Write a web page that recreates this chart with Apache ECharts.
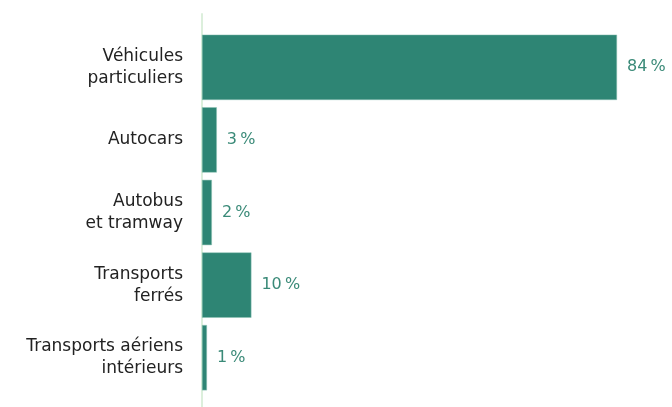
<!DOCTYPE html>
<html>
<head>
<meta charset="utf-8">
<script src="https://cdn.jsdelivr.net/npm/echarts@6/dist/echarts.min.js"></script>
<style>html,body{margin:0;padding:0;background:#fff;}#c{width:672px;height:407px;}</style>
</head>
<body>
<div id="c"></div>
<script>
var categories = ["Véhicules\nparticuliers", "Autocars", "Autobus\net tramway", "Transports\nferrés", "Transports aériens\nintérieurs"];
var values = [84, 3, 2, 10, 1];

var FONT = "DejaVu Sans";
var chart = echarts.init(document.getElementById('c'), null, {renderer: 'canvas'});
chart.setOption({
  animation: false,
  grid: [
    {left: 202, right: 55, top: 31, bottom: 13, containLabel: false},
    {left: 202, right: 55, top: 14, bottom: 0, containLabel: false}
  ],
  xAxis: [
    {gridIndex: 0, type: 'value', min: 0, max: 84, show: false},
    {gridIndex: 1, type: 'value', min: 0, max: 84, show: false}
  ],
  yAxis: [
    {
      gridIndex: 0, type: 'category', data: categories, inverse: true,
      axisLine: {show: false}, axisTick: {show: false},
      axisLabel: {color: '#222222', fontFamily: FONT, fontSize: 17, lineHeight: 22, margin: 19, align: 'right'}
    },
    {
      gridIndex: 1, type: 'category', data: [''],
      axisLine: {show: true, lineStyle: {color: '#dcefdc', width: 2}},
      axisTick: {show: false}, axisLabel: {show: false}
    }
  ],
  series: [{
    type: 'bar', xAxisIndex: 0, yAxisIndex: 0, data: values,
    barCategoryGap: '10%',
    itemStyle: {color: '#2e8574', borderColor: '#8fc2b4', borderWidth: 0.5},
    label: {
      show: true, position: 'right', distance: 10,
      color: '#3a8a78', fontFamily: FONT, fontSize: 16,
      formatter: function (p) { return p.value + '\u202f%'; }
    }
  }]
});
</script>
</body>
</html>
